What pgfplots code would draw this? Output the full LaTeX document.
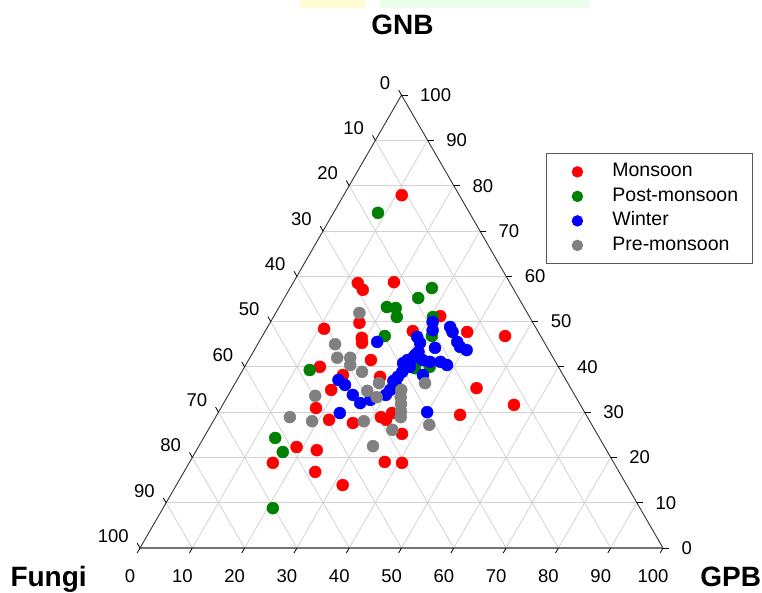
\documentclass[border=0pt]{standalone}
\usepackage{fontspec}
\setmainfont{Liberation Sans}
\usepackage{pgfplots}
\usepackage{pgfplotstable}
\pgfplotsset{compat=1.18}

\definecolor{monsoon}{HTML}{FF0000}
\definecolor{postm}{HTML}{008000}
\definecolor{winter}{HTML}{0000FF}
\definecolor{prem}{HTML}{808080}
\definecolor{gridc}{HTML}{D2D2D2}

\newcommand\tl{\fontsize{18.5}{22}\selectfont}
\newcommand\ttl{\fontsize{28}{32}\selectfont\bfseries}

% ternary data: GPB, GNB (Fungi = 100 - GPB - GNB)
\pgfplotstableread{
GPB GNB
11.1 77.9
12.4 58.5
14.1 57.0
19.2 58.7
11.0 48.4
17.1 49.7
19.2 46.4
19.8 45.3
28.2 47.9
31.8 51.2
38.7 47.7
46.4 46.8
23.4 41.5
14.4 40.0
19.7 38.2
19.1 34.9
27.0 37.8
46.7 35.3
55.7 31.6
46.5 29.4
18.2 30.9
22.0 28.3
26.9 27.6
31.6 28.9
32.9 28.3
33.3 29.8
37.5 25.2
18.8 22.3
23.0 21.6
16.0 18.8
25.1 16.8
37.3 19.0
40.7 18.8
31.8 13.9
}\monsoon

\pgfplotstableread{
GPB GNB
8.5 74.0
27.1 57.4
25.6 55.2
20.6 53.2
22.4 53.0
23.6 51.0
30.5 51.0
23.4 46.8
32.4 46.8
12.8 39.3
32.7 39.7
35.4 40.0
13.7 24.3
16.7 21.2
21.0 8.8
}\postmonsoon

\pgfplotstableread{
GPB GNB
31.0 49.9
31.9 48.1
34.9 48.8
35.9 47.7
29.7 46.6
30.9 45.3
37.9 45.5
39.0 44.4
40.6 43.7
34.3 44.2
31.3 42.6
30.4 41.5
29.9 40.8
33.3 41.5
34.9 41.1
36.9 41.1
38.5 40.4
30.7 38.9
30.4 37.8
30.0 36.9
35.0 38.2
31.6 40.0
22.6 45.5
19.4 37.1
21.2 36.0
23.8 33.8
26.1 32.0
27.7 32.7
23.3 29.8
30.4 34.9
30.1 33.8
39.9 30.0
31.2 42.0
31.6 43.3
30.9 36.0
}\winter

\pgfplotstableread{
GPB GNB
16.0 51.9
14.8 45.0
16.7 42.0
19.2 42.0
20.0 40.4
23.0 38.9
27.5 36.4
26.1 34.7
28.6 33.3
16.7 33.6
14.2 28.9
18.9 28.0
28.8 28.0
32.5 34.9
33.2 33.3
34.0 31.8
34.8 30.2
35.4 28.9
35.2 26.1
41.7 27.2
33.3 22.5
36.3 36.4
}\premonsoon

\begin{document}
\begin{tikzpicture}
\begin{axis}[
  scale only axis, width=762pt, height=592pt,
  xmin=-26.77, xmax=118.93, ymin=-8.41, ymax=104.78,
  hide axis, clip=false,
  every axis plot/.append style={only marks, mark=*, mark size=6pt},
  legend style={at={(axis cs:77.63,75.53)}, anchor=north west,
    draw=black!65, line width=0.8pt, fill=white,
    font=\fontsize{19.5}{22}\selectfont, inner xsep=14pt, inner ysep=9.5pt,
    row sep=6.5pt, nodes={inner sep=0pt, text height=14pt, text depth=4pt}},
  legend cell align=left,
  legend image code/.code={\path[draw=none, fill=none] (0pt,-2pt) rectangle (52pt,2pt);
    \draw[#1, mark size=5.3pt] plot coordinates {(17pt,0pt)};},
]
% invisible frame fixing the bounding box
\path (rel axis cs:0,0) rectangle (rel axis cs:1,1);
% watermark strips at the top
\fill[yellow!18] (axis cs:30.6,103.25) rectangle (axis cs:43.0,104.78);
\fill[green!8] (axis cs:45.9,103.25) rectangle (axis cs:86.0,104.78);

% grid
\pgfplotsinvokeforeach{10,20,...,90}{
  \draw[gridc, line width=0.8pt] (axis cs:{#1/2},{#1*0.866025}) -- (axis cs:{100-#1/2},{#1*0.866025});
  \draw[gridc, line width=0.8pt] (axis cs:#1,0) -- (axis cs:{#1+(100-#1)/2},{(100-#1)*0.866025});
  \draw[gridc, line width=0.8pt] (axis cs:{100-#1},0) -- (axis cs:{(100-#1)/2},{(100-#1)*0.866025});
}
% triangle
\draw[black!80, line width=0.9pt] (axis cs:0,0) -- (axis cs:50,86.6025) -- (axis cs:100,0);
\draw[black!55, line width=1.6pt] (axis cs:0,0) -- (axis cs:100,0);

% ticks and labels
\pgfplotsinvokeforeach{0,10,...,100}{
  \draw[black, line width=0.8pt] (axis cs:#1,0) -- (axis cs:{#1-0.55},-0.95);
  \node[font=\tl] at (axis cs:{#1-1.9},-5.35) {#1};
  \draw[black, line width=0.8pt] (axis cs:{100-#1/2},{#1*0.866025}) -- (axis cs:{100-#1/2+1.15},{#1*0.866025});
  \node[font=\tl, anchor=west] at (axis cs:{100-#1/2+2.9},{#1*0.866025}) {#1};
  \draw[black, line width=0.8pt] (axis cs:{(100-#1)/2},{(100-#1)*0.866025}) -- (axis cs:{(100-#1)/2-0.55},{(100-#1)*0.866025+0.95});
  \node[font=\tl, anchor=east] at (axis cs:{(100-#1)/2-1.5},{(100-#1)*0.866025+2.3}) {#1};
}

% axis titles
\node[font=\ttl, anchor=base] at (axis cs:50.2,98.1) {GNB};
\node[font=\ttl, anchor=base west, inner sep=0pt] at (axis cs:-24.8,-7.4) {Fungi};
\node[font=\ttl, anchor=base east, inner sep=0pt] at (axis cs:118.8,-7.4) {GPB};

\addplot[color=monsoon] table[x expr=\thisrow{GPB}+0.5*\thisrow{GNB}, y expr=0.866025*\thisrow{GNB}] {\monsoon};
\addplot[color=postm] table[x expr=\thisrow{GPB}+0.5*\thisrow{GNB}, y expr=0.866025*\thisrow{GNB}] {\postmonsoon};
\addplot[color=winter] table[x expr=\thisrow{GPB}+0.5*\thisrow{GNB}, y expr=0.866025*\thisrow{GNB}] {\winter};
\addplot[color=prem] table[x expr=\thisrow{GPB}+0.5*\thisrow{GNB}, y expr=0.866025*\thisrow{GNB}] {\premonsoon};
\legend{Monsoon, Post-monsoon, Winter, Pre-monsoon}
\end{axis}
\end{tikzpicture}
\end{document}
